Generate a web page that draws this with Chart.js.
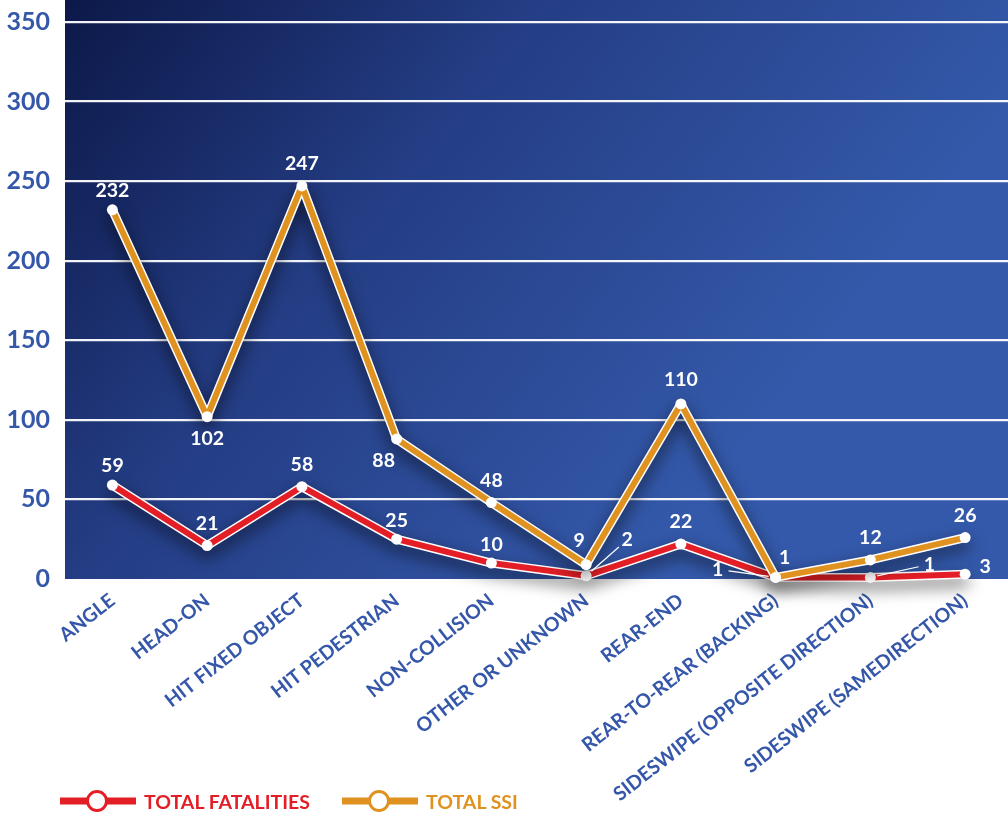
<!DOCTYPE html>
<html>
<head>
<meta charset="utf-8">
<script src="https://cdn.jsdelivr.net/npm/chart.js@4.4.1/dist/chart.umd.min.js"></script>
<style>
  html, body { margin: 0; padding: 0; background: #fff; overflow: hidden; }
  #wrap { position: relative; width: 1018px; height: 817px; }
  #legend .item { position: absolute; top: 789px; display: flex; align-items: center;
            font-family: Lato, sans-serif; font-weight: 700; font-size: 19.5px; }
  #legend svg { margin-right: 8px; }
</style>
</head>
<body>
<div id="wrap">
  <canvas id="grafiek" width="1018" height="817"></canvas>
  <div id="legend"></div>
</div>
<script>
// gegevens
const categories = ['ANGLE', 'HEAD-ON', 'HIT FIXED OBJECT', 'HIT PEDESTRIAN', 'NON-COLLISION',
    'OTHER OR UNKNOWN', 'REAR-END', 'REAR-TO-REAR (BACKING)', 'SIDESWIPE (OPPOSITE DIRECTION)',
    'SIDESWIPE (SAMEDIRECTION)'];
const totalFatalities = [59, 21, 58, 25, 10, 2, 22, 1, 1, 3];
const totalSSI = [232, 102, 247, 88, 48, 9, 110, 1, 12, 26];
const yTicks = [0, 50, 100, 150, 200, 250, 300, 350];

const RED = '#e31e26';
const ORANGE = '#df9220';
const BLUE_TXT = '#3557a9';

// label plaatsing t.o.v. het punt: [dx, dy, leader?]
const ssiLabelPos = [[0, -19], [0, 22], [0, -22], [-13, 22], [0, -22], [-7, -24], [0, -24], [9, -20], [0, -22], [0, -22]];
const fatLabelPos = [[0, -19], [0, -22], [0, -22], [0, -18], [0, -18], [41, -36, true], [0, -22], [-58, -8, true], [59, -13, true], [20, -8]];

const bgPlugin = {
    id: 'bg',
    beforeDraw(chart) {
        const { ctx, chartArea: a } = chart;
        const g = ctx.createLinearGradient(a.left, 0, a.left + 640, 500);
        g.addColorStop(0, '#0c1848');
        g.addColorStop(0.45, '#243d84');
        g.addColorStop(1, '#3459aa');
        ctx.save();
        ctx.fillStyle = g;
        ctx.fillRect(a.left, 0, a.right - a.left, a.bottom);
        ctx.restore();
    }
};

const shadowPlugin = {
    id: 'schaduw',
    beforeDatasetDraw(chart, args) {
        const ctx = chart.ctx;
        ctx.save();
        if (chart.data.datasets[args.index].outline) {
            ctx.shadowColor = 'rgba(0,0,0,0.6)';
            ctx.shadowBlur = 16;
            ctx.shadowOffsetY = 7;
        }
    },
    afterDatasetDraw(chart) {
        chart.ctx.restore();
    }
};

const labelPlugin = {
    id: 'labels',
    afterDatasetsDraw(chart) {
        const ctx = chart.ctx;
        ctx.save();
        ctx.font = '700 19.5px Lato, sans-serif';
        ctx.fillStyle = '#fff';
        ctx.strokeStyle = '#fff';
        ctx.lineWidth = 1.2;
        ctx.textAlign = 'center';
        ctx.textBaseline = 'middle';
        chart.data.datasets.forEach((ds, i) => {
            if (!ds.labelPos) return;
            const meta = chart.getDatasetMeta(i);
            meta.data.forEach((pt, j) => {
                const [dx, dy, lead] = ds.labelPos[j];
                const lx = pt.x + dx, ly = pt.y + dy;
                if (lead) {
                    const len = Math.hypot(dx, dy);
                    const ux = dx / len, uy = dy / len;
                    ctx.beginPath();
                    ctx.moveTo(pt.x + ux * 7, pt.y + uy * 7);
                    ctx.lineTo(lx - ux * 11, ly - uy * 11);
                    ctx.stroke();
                }
                ctx.fillText(ds.data[j], lx, ly);
            });
        });
        ctx.restore();
    }
};

const lineDefaults = { borderJoinStyle: 'round', borderCapStyle: 'round', clip: false, tension: 0 };

const ctx = document.getElementById('grafiek').getContext('2d');
new Chart(ctx, {
    type: 'line',
    data: {
        labels: categories,
        datasets: [
            { ...lineDefaults, label: 'TOTAL SSI', data: totalSSI, borderColor: ORANGE, borderWidth: 6,
              pointRadius: 5.5, pointBackgroundColor: '#fff', pointBorderWidth: 0,
              order: 1, labelPos: ssiLabelPos },
            { ...lineDefaults, data: totalSSI, borderColor: '#fff', borderWidth: 9, pointRadius: 0,
              order: 2, outline: true },
            { ...lineDefaults, label: 'TOTAL FATALITIES', data: totalFatalities, borderColor: RED, borderWidth: 6,
              pointRadius: 5.5, pointBackgroundColor: '#fff', pointBorderWidth: 0,
              order: 3, labelPos: fatLabelPos },
            { ...lineDefaults, data: totalFatalities, borderColor: '#fff', borderWidth: 9, pointRadius: 0,
              order: 4, outline: true }
        ]
    },
    options: {
        responsive: false,
        animation: false,
        layout: { padding: { top: 22, left: 0, right: 0, bottom: 0 } },
        plugins: { legend: { display: false }, tooltip: { enabled: false } },
        scales: {
            x: {
                offset: true,
                grid: { display: false },
                border: { display: false },
                ticks: {
                    autoSkip: false, maxRotation: 38, minRotation: 38, padding: 2,
                    color: BLUE_TXT, font: { family: 'Lato', weight: '700', size: 19.5 }
                },
                afterFit: s => { s.height = 238; }
            },
            y: {
                min: 0, max: 350,
                afterBuildTicks: s => { s.ticks = yTicks.map(v => ({ value: v })); },
                grid: {
                    drawTicks: false,
                    color: c => c.tick && c.tick.value === 0 ? 'rgba(0,0,0,0)' : 'rgba(255,255,255,0.95)',
                    lineWidth: 2.2
                },
                border: { display: false },
                ticks: {
                    padding: 15, color: BLUE_TXT,
                    font: { family: 'Lato', weight: '700', size: 25 }
                },
                afterFit: s => { s.width = 65; s.paddingTop = 0; s.paddingBottom = 0; }
            }
        }
    },
    plugins: [bgPlugin, shadowPlugin, labelPlugin]
});

// legenda
const legendItems = [['TOTAL FATALITIES', RED, 60], ['TOTAL SSI', ORANGE, 342]];
document.getElementById('legend').innerHTML = legendItems.map(([t, c, x]) =>
    '<div class="item" style="left:' + x + 'px"><svg width="76" height="24"><line x1="0" y1="12" x2="76" y2="12" stroke="' + c +
    '" stroke-width="7"/><circle cx="37" cy="12" r="9.5" fill="#fff" stroke="' + c +
    '" stroke-width="3"/></svg><span style="color:' + c + '">' + t + '</span></div>').join('');
</script>
</body>
</html>
